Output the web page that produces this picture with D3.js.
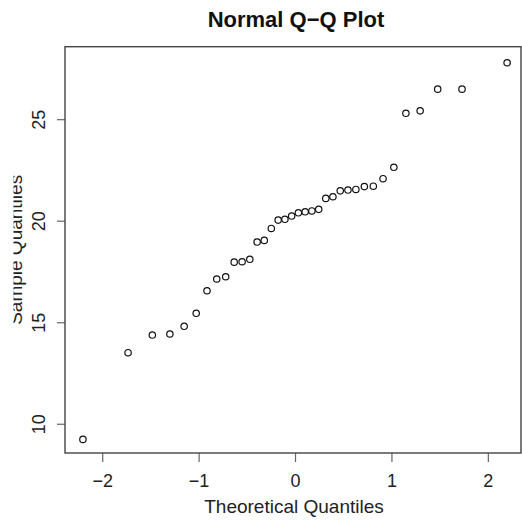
<!DOCTYPE html>
<html>
<head>
<meta charset="utf-8">
<script src="https://cdn.jsdelivr.net/npm/d3@7"></script>
<style>
  body { margin: 0; background: #fff; }
  svg { display: block; font-family: "Liberation Sans", Arial, sans-serif; }
</style>
</head>
<body>
<div id="chart"></div>
<script>
// theoretical quantiles (x) and sample quantiles (y)
var theoretical = [-2.200, -1.732, -1.480, -1.298, -1.150, -1.025, -0.913, -0.812, -0.719,
                   -0.631, -0.549, -0.469, -0.393, -0.319, -0.246, -0.175, -0.105, -0.035,
                   0.035, 0.105, 0.175, 0.246, 0.319, 0.393, 0.469, 0.549, 0.631,
                   0.719, 0.812, 0.913, 1.025, 1.150, 1.298, 1.480, 1.732, 2.200];
var sample = [9.23, 13.50, 14.37, 14.42, 14.80, 15.44, 16.55, 17.13, 17.24,
              17.96, 17.98, 18.10, 18.95, 19.03, 19.62, 20.03, 20.07, 20.23,
              20.39, 20.44, 20.48, 20.56, 21.10, 21.18, 21.47, 21.51, 21.54,
              21.68, 21.70, 22.07, 22.63, 25.29, 25.41, 26.48, 26.48, 27.78];
var xTicks = [-2, -1, 0, 1, 2];
var yTicks = [10, 15, 20, 25];

var width = 522, height = 520;
var padLeft = 65, padRight = 521, padTop = 46.7, padBottom = 453;

var svg = d3.select("#chart").append("svg")
    .attr("width", width)
    .attr("height", height);

var x = d3.scaleLinear().domain([-2.386, 2.344]).range([padLeft, padRight]);
var y = d3.scaleLinear().domain([8.56, 28.57]).range([padBottom, padTop]);

var points = theoretical.map((q, i) => ({ q: q, v: sample[i] }));

// title
svg.append("text")
    .attr("x", 296)
    .attr("y", 27)
    .attr("text-anchor", "middle")
    .style("font-size", "22px")
    .style("font-weight", "bold")
    .attr("fill", "#111")
    .text("Normal Q\u2212Q Plot");

// x axis
var xAxis = svg.append("g")
    .attr("transform", `translate(0, ${padBottom})`)
    .call(d3.axisBottom(x).tickValues(xTicks).tickFormat(d3.format("d")).tickSize(9).tickPadding(12));
xAxis.select(".domain").remove();
xAxis.selectAll("line").attr("stroke", "#666").attr("stroke-width", 1.2);
xAxis.selectAll("text")
    .style("font-size", "18px")
    .style("font-family", "Liberation Sans, Arial, sans-serif")
    .attr("fill", "#222");

// y axis
var yAxis = svg.append("g")
    .attr("transform", `translate(${padLeft}, 0)`)
    .call(d3.axisLeft(y).tickValues(yTicks).tickFormat(d3.format("d")).tickSize(8));
yAxis.select(".domain").remove();
yAxis.selectAll("line").attr("stroke", "#666").attr("stroke-width", 1.2);
yAxis.selectAll("text")
    .attr("transform", "rotate(-90)")
    .attr("x", 0)
    .attr("y", -20)
    .attr("dy", 0)
    .attr("text-anchor", "middle")
    .style("font-size", "18px")
    .style("font-family", "Liberation Sans, Arial, sans-serif")
    .attr("fill", "#222");

// plot box
svg.append("rect")
    .attr("x", padLeft)
    .attr("y", padTop)
    .attr("width", padRight - padLeft)
    .attr("height", padBottom - padTop)
    .attr("fill", "none")
    .attr("stroke", "#444")
    .attr("stroke-width", 1.4);

// axis titles
svg.append("text")
    .attr("x", 294)
    .attr("y", 512.7)
    .attr("text-anchor", "middle")
    .style("font-size", "19px")
    .attr("fill", "#222")
    .text("Theoretical Quantiles");

// y title is cut off at the left in the original
svg.append("clipPath")
    .attr("id", "ylab-clip")
    .append("rect")
    .attr("x", 13.5).attr("y", 0).attr("width", 40).attr("height", height);

svg.append("g")
    .attr("clip-path", "url(#ylab-clip)")
    .append("text")
    .attr("transform", `translate(21.5, ${(padTop + padBottom) / 2}) rotate(-90)`)
    .attr("text-anchor", "middle")
    .style("font-size", "19px")
    .attr("fill", "#222")
    .text("Sample Quantiles");

// points
svg.append("g")
    .selectAll("circle")
    .data(points)
    .enter()
    .append("circle")
    .attr("cx", d => x(d.q))
    .attr("cy", d => y(d.v))
    .attr("r", 3.2)
    .attr("fill", "none")
    .attr("stroke", "#111")
    .attr("stroke-width", 1.2);
</script>
</body>
</html>
